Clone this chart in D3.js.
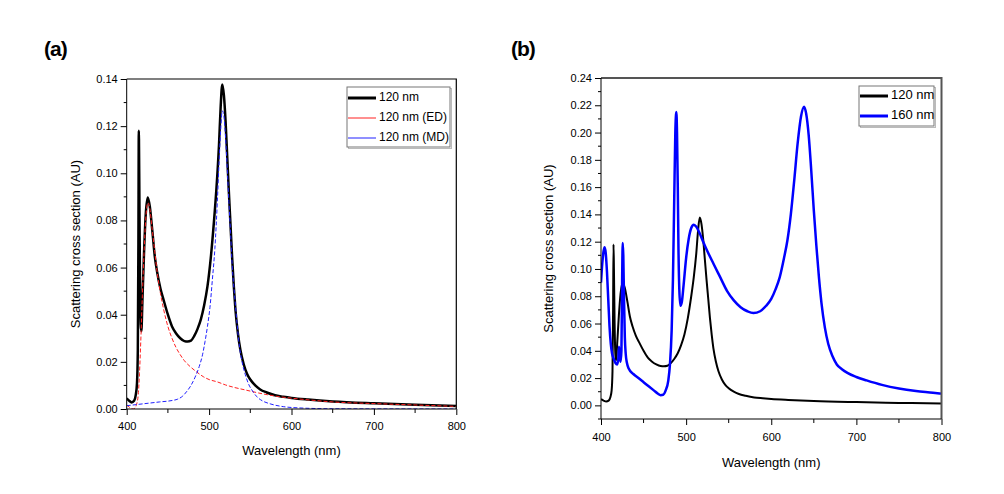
<!DOCTYPE html>
<html><head><meta charset="utf-8">
<script src="https://cdn.jsdelivr.net/npm/d3@7"></script>
<style>
body{margin:0;background:#fff;}
svg{display:block;}
text{font-family:"Liberation Sans",Arial,sans-serif;fill:#000;}
</style></head>
<body><svg id="c" width="1004" height="494"></svg>
<script>
// ---------- DATA ----------
const wl120 = [400,403,406,409,411,412.5,413.5,414.2,414.7,415.2,416,417,417.8,419,421,423,425.5,428,431,434,437,441,445,450,455,460,465,470,474,478,482,486,490,494,498,502,506,509,512,514,516,518,520,522,524,526,528,530,532,535,538,542,546,550,556,562,570,580,590,600,620,650,700,750,800];
const sc120 = [0.0045,0.0035,0.0028,0.0035,0.006,0.011,0.025,0.07,0.118,0.10,0.06,0.036,0.033,0.045,0.066,0.082,0.0897,0.086,0.076,0.065,0.058,0.051,0.046,0.040,0.035,0.032,0.030,0.0288,0.0286,0.029,0.031,0.034,0.038,0.044,0.052,0.064,0.080,0.094,0.112,0.128,0.1377,0.133,0.122,0.107,0.092,0.078,0.064,0.052,0.042,0.032,0.025,0.019,0.015,0.0125,0.0100,0.0083,0.0070,0.0058,0.0052,0.0047,0.0040,0.0032,0.0024,0.0018,0.0013];

const wlED = [400,403,406,408,410,412,414,415.5,417,419,421,423,425,426,428,431,434,437,441,445,450,455,460,465,470,477,485,493,500,510,520,530,545,560,580,600,620,650,700,750,800];
const scED = [0.0017,0.0008,0.0001,0.0000,0.0004,0.002,0.006,0.015,0.028,0.048,0.066,0.080,0.087,0.0875,0.085,0.076,0.067,0.058,0.049,0.042,0.035,0.030,0.026,0.023,0.0205,0.018,0.0157,0.0137,0.0125,0.0115,0.0102,0.0092,0.0080,0.0068,0.0055,0.0046,0.0039,0.0030,0.0023,0.0017,0.0011];

const wlMD = [400,420,440,455,462,468,473,478,483,488,492,495,498,501,504,507,510,512,514,516,518,520,522,524,526,528,531,534,537,540,544,548,553,558,565,574,590,602,650,800];
const scMD = [0.0014,0.0022,0.0030,0.0036,0.0042,0.0055,0.0075,0.0100,0.0135,0.0180,0.0230,0.0285,0.035,0.043,0.055,0.068,0.088,0.104,0.118,0.1265,0.124,0.115,0.102,0.088,0.075,0.061,0.048,0.036,0.026,0.020,0.0145,0.0105,0.0075,0.0052,0.0034,0.0022,0.0010,0.0006,0.0001,0.0000];

const wl160 = [400,401.5,403,404.3,405.5,407,408.5,410,411.5,413,415,417,419,420.3,421.1,422,423,424,424.8,425.5,426.2,427,428,429,430.5,432.5,438,444,450,456,462,467,470,473,476,479,481,483,484.5,486,487.3,488.5,489.3,490.2,491,492,493.3,495,497,500,503,506,509,512,516,520,525,532,540,548,556,564,572,579,587,594,600,605,610,615,619,623,627,631,635,638.5,641,644,647,650,653,656,659,663,667,672,677,683,690,700,712,730,750,770,790,800];
const sc160 = [0.090,0.104,0.113,0.116,0.112,0.098,0.078,0.058,0.045,0.038,0.034,0.031,0.030,0.034,0.043,0.036,0.032,0.040,0.090,0.119,0.110,0.079,0.050,0.038,0.031,0.027,0.023,0.020,0.017,0.014,0.011,0.0085,0.0075,0.0078,0.011,0.018,0.030,0.055,0.092,0.150,0.200,0.215,0.200,0.160,0.115,0.085,0.073,0.076,0.088,0.108,0.122,0.130,0.1325,0.131,0.126,0.120,0.113,0.104,0.094,0.084,0.077,0.072,0.069,0.0677,0.069,0.073,0.078,0.085,0.094,0.108,0.121,0.140,0.165,0.192,0.212,0.219,0.214,0.198,0.172,0.143,0.117,0.094,0.075,0.057,0.045,0.036,0.030,0.0265,0.0236,0.0208,0.0183,0.015,0.0123,0.0105,0.0093,0.0086];

const xTicks = [400,500,600,700,800];
const yTicksA = [0,0.02,0.04,0.06,0.08,0.10,0.12,0.14];
const yTicksB = [0,0.02,0.04,0.06,0.08,0.10,0.12,0.14,0.16,0.18,0.20,0.22,0.24];
const legendA = ["120 nm","120 nm (ED)","120 nm (MD)"];
const legendB = ["120 nm","160 nm"];

// ---------- DRAW ----------
const svg = d3.select("#c");
svg.append("rect").attr("width",1004).attr("height",494).attr("fill","#fff");
const zip = (xs, ys) => xs.map((x,i)=>[x,ys[i]]);

function panel(o){
  const g = svg.append("g");
  const x = d3.scaleLinear().domain([400,800]).range([o.l,o.r]);
  const y = d3.scaleLinear().domain(o.yDom).range([o.b,o.t]);
  const clipId = "clip"+o.id;
  g.append("clipPath").attr("id",clipId).append("rect")
    .attr("x",o.l).attr("y",o.t).attr("width",o.r-o.l).attr("height",o.b-o.t);
  const line = d3.line().x(d=>x(d[0])).y(d=>y(d[1])).curve(d3.curveMonotoneX);
  o.series.forEach(s=>{
    g.append("path").attr("clip-path",`url(#${clipId})`)
      .attr("d",line(zip(s.x,s.y))).attr("fill","none")
      .attr("stroke",s.color).attr("stroke-width",s.w)
      .attr("stroke-dasharray",s.dash||null).attr("stroke-linejoin","round");
  });
  // frame top/right
  g.append("path").attr("d",`M${o.l},${o.t}H${o.r}V${o.b}`)
    .attr("fill","none").attr("stroke",o.frame).attr("stroke-width",o.frameW);
  // minor ticks
  const minorX = d3.range(450,800,100);
  g.append("g").selectAll("line").data(minorX).join("line")
    .attr("x1",d=>x(d)).attr("x2",d=>x(d)).attr("y1",o.b).attr("y2",o.b+4)
    .attr("stroke","#000");
  const minorY = o.minorY;
  g.append("g").selectAll("line").data(minorY).join("line")
    .attr("y1",d=>y(d)).attr("y2",d=>y(d)).attr("x1",o.l-3).attr("x2",o.l)
    .attr("stroke","#000");
  const ax = g.append("g").attr("transform",`translate(0,${o.b})`)
    .call(d3.axisBottom(x).tickValues(xTicks).tickFormat(d3.format("d")).tickSizeOuter(0).tickSize(6).tickPadding(o.xPad));
  const ay = g.append("g").attr("transform",`translate(${o.l},0)`)
    .call(d3.axisLeft(y).tickValues(o.yTicks).tickFormat(d3.format(".2f")).tickSizeOuter(0).tickSize(6).tickPadding(3));
  [ax,ay].forEach(a=>{
    a.selectAll("text").attr("font-size",11).attr("font-family","Liberation Sans, Arial, sans-serif").attr("fill","#000");
    a.selectAll("line").attr("stroke","#000");
    a.select(".domain").attr("stroke","#000");
  });
  ay.select(".domain").attr("d",`M0,${o.b}V${o.t}`);
  ax.select(".domain").attr("d",`M${o.l},0H${o.r}`);
  // titles
  g.append("text").attr("x",(o.l+o.r)/2).attr("y",o.xTitleY).attr("text-anchor","middle")
    .attr("font-size",13).attr("dominant-baseline","middle").text("Wavelength (nm)");
  g.append("text").attr("transform",`translate(${o.yTitleX},${(o.t+o.b)/2}) rotate(-90)`)
    .attr("text-anchor","middle").attr("dominant-baseline","middle")
    .attr("font-family","DejaVu Sans, Verdana, sans-serif").attr("font-size",13)
    .text("Scattering cross section (AU)");
  g.append("text").attr("x",o.lab[0]).attr("y",o.lab[1])
    .attr("font-family","DejaVu Sans, Verdana, sans-serif").attr("font-weight","bold")
    .attr("font-size",21).attr("letter-spacing",-1).text(o.label);
  // legend
  const L = o.legend;
  g.append("rect").attr("x",L.x+1.5).attr("y",L.y+1.5).attr("width",L.w).attr("height",L.h)
    .attr("fill","none").attr("stroke","#bbb").attr("stroke-width",1);
  g.append("rect").attr("x",L.x).attr("y",L.y).attr("width",L.w).attr("height",L.h)
    .attr("fill","#fff").attr("stroke","#777").attr("stroke-width",1);
  L.items.forEach((t,i)=>{
    const yy = L.y0 + i*L.dy;
    const s = o.series[L.map[i]];
    g.append("line").attr("x1",L.x+1).attr("x2",L.x+L.lw).attr("y1",yy).attr("y2",yy)
      .attr("stroke",s.color).attr("stroke-width",L.lineW[i]);
    g.append("text").attr("x",L.x+L.lw+3).attr("y",yy).attr("dominant-baseline","middle")
      .attr("font-size",L.fs).text(t);
  });
}

panel({id:"a", l:126.7, r:456.3, t:79, b:409, yDom:[0,0.14], yTicks:yTicksA,
  minorY:d3.range(0.01,0.14,0.02), frame:"#000", frameW:1.2, xPad:7,
  xTitleY:452, yTitleX:77, label:"(a)", lab:[44,56],
  series:[
    {x:wl120,y:sc120,color:"#000",w:2.5},
    {x:wlED,y:scED,color:"#ff2020",w:1,dash:"4,2"},
    {x:wlMD,y:scMD,color:"#2020ff",w:1,dash:"4,2"}
  ],
  legend:{x:347,y:87,w:103,h:60,y0:98,dy:20,lw:29,fs:12,items:legendA,map:[0,1,2],lineW:[3,1,1]}
});

panel({id:"b", l:601, r:941.5, t:78, b:419, yDom:[-0.01,0.24], yTicks:yTicksB,
  minorY:d3.range(-0.01,0.24,0.02), frame:"#555", frameW:2, xPad:8,
  xTitleY:464, yTitleX:550, label:"(b)", lab:[511,56],
  series:[
    {x:wl120,y:sc120,color:"#000",w:2},
    {x:wl160,y:sc160,color:"#0000ff",w:2.5}
  ],
  legend:{x:859,y:86,w:75,h:40,y0:96,dy:20,lw:29,fs:13,items:legendB,map:[0,1],lineW:[3,3]}
});
</script></body></html>
